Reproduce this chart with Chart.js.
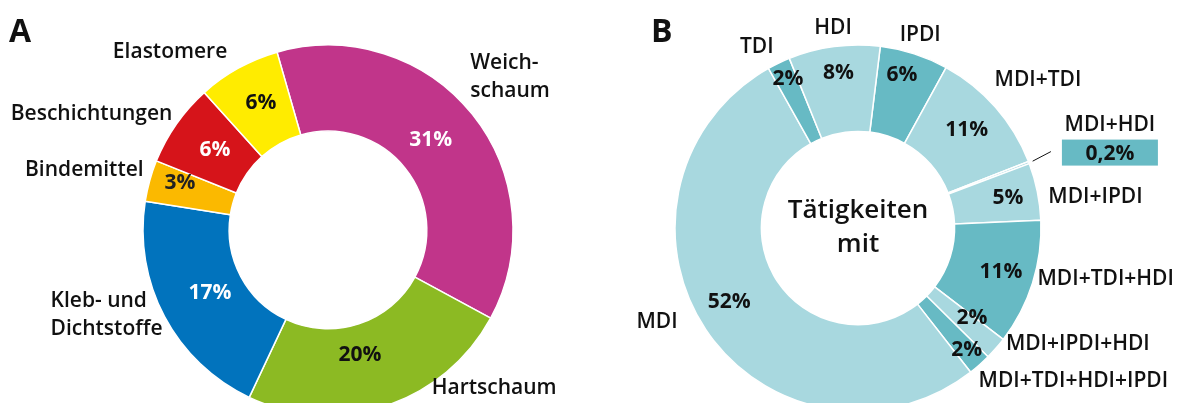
<!DOCTYPE html>
<html>
<head>
<meta charset="utf-8">
<script src="https://cdn.jsdelivr.net/npm/chart.js@4.4.1/dist/chart.umd.min.js"></script>
<style>
  html, body { margin: 0; padding: 0; background: #fff; }
  #wrap { position: relative; width: 1177px; height: 403px; overflow: hidden; }
  #wrap canvas { position: absolute; left: 0; top: 0; }
</style>
</head>
<body>
<div id="wrap">
  <canvas id="chartA" width="1177" height="403"></canvas>
  <canvas id="chartB" width="1177" height="403"></canvas>
</div>
<script>
// Panel A - Anwendungsbereiche
const categoriesA = ['Weichschaum', 'Hartschaum', 'Kleb- und Dichtstoffe', 'Bindemittel', 'Beschichtungen', 'Elastomere'];
const valuesA = [31, 20, 17, 3, 6, 6];
const linesA = [['Weich-', 'schaum'], ['Hartschaum'], ['Kleb- und', 'Dichtstoffe'], ['Bindemittel'], ['Beschichtungen'], ['Elastomere']];
const colorsA = ['#c1358a', '#8cba23', '#0173bd', '#fbb900', '#d6141a', '#ffec00'];
const pctColorsA = ['#fff', '#111', '#fff', '#222', '#fff', '#111'];

// Panel B - Tätigkeiten mit
const categoriesB = ['IPDI', 'MDI+TDI', 'MDI+HDI', 'MDI+IPDI', 'MDI+TDI+HDI', 'MDI+IPDI+HDI', 'MDI+TDI+HDI+IPDI', 'MDI', 'TDI', 'HDI'];
const valuesB = [6, 11, 0.2, 5, 11, 2, 2, 52, 2, 8];
const colorsB = ['#67bac4', '#a8d8df', '#a8d8df', '#a8d8df', '#67bac4', '#a8d8df', '#67bac4', '#a8d8df', '#67bac4', '#a8d8df'];

const LABEL_FONT = '600 21px "Open Sans"';
const PCT_FONT = 'bold 21px "Open Sans"';

function pct(v) {
    return String(v).replace('.', ',') + '%';
}

// draws outside names and inside percentages, placed from each arc's own geometry
const sliceLabels = {
    id: 'sliceLabels',
    afterDatasetsDraw(chart, args, opts) {
        const ctx = chart.ctx;
        const arcs = chart.getDatasetMeta(0).data;
        const values = chart.data.datasets[0].data;
        ctx.save();
        ctx.textBaseline = 'middle';
        arcs.forEach((arc, i) => {
            const mid = (arc.startAngle + arc.endAngle) / 2;
            const cx = arc.x, cy = arc.y;

            // name outside
            const o = opts.outer[i];
            const ax = cx + Math.cos(mid) * arc.outerRadius + o[0];
            const ay = cy + Math.sin(mid) * arc.outerRadius + o[1];
            const lines = opts.names[i];
            ctx.font = LABEL_FONT;
            ctx.fillStyle = '#111';
            if (o[3] === 'box') {
                // small slice: name above a filled box with the value
                const bw = 96, bh = 26;
                ctx.textAlign = 'center';
                ctx.fillText(lines[0], ax + bw / 2, ay - 28);
                ctx.fillStyle = opts.boxColor;
                ctx.fillRect(ax, ay - bh / 2, bw, bh);
                ctx.fillStyle = '#111';
                ctx.font = PCT_FONT;
                ctx.fillText(pct(values[i]), ax + bw / 2, ay + 1);
                ctx.strokeStyle = '#111';
                ctx.lineWidth = 1;
                ctx.beginPath();
                ctx.moveTo(cx + Math.cos(mid) * (arc.outerRadius + 4), cy + Math.sin(mid) * (arc.outerRadius + 4));
                ctx.lineTo(ax - 11, ay - 1);
                ctx.stroke();
            } else {
                ctx.textAlign = o[2];
                const lh = 28;
                const top = ay - (lines.length - 1) * lh / 2;
                lines.forEach((t, k) => ctx.fillText(t, ax, top + k * lh));

                // percentage inside
                const p = opts.inner[i];
                const px = cx + Math.cos(mid) * opts.pctRadius + p[0];
                const py = cy + Math.sin(mid) * opts.pctRadius + p[1];
                ctx.font = PCT_FONT;
                ctx.textAlign = 'center';
                ctx.fillStyle = opts.pctColors[i];
                ctx.fillText(pct(values[i]), px, py);
            }
        });

        if (opts.center) {
            ctx.font = '600 26px "Open Sans"';
            ctx.fillStyle = '#111';
            ctx.textAlign = 'center';
            ctx.fillText(opts.center[0], arcs[0].x, arcs[0].y - 17);
            ctx.fillText(opts.center[1], arcs[0].x, arcs[0].y + 17);
        }

        ctx.font = 'bold 32px "Open Sans"';
        ctx.fillStyle = '#111';
        ctx.textAlign = 'left';
        ctx.fillText(opts.panel, opts.panelX, 33);
        ctx.restore();
    }
};

function makeDoughnut(id, labels, values, colors, radius, padding, rotation, labelOpts) {
    return new Chart(document.getElementById(id), {
        type: 'doughnut',
        data: {
            labels: labels,
            datasets: [{
                data: values,
                backgroundColor: colors,
                borderColor: '#fff',
                borderWidth: 1.5,
                hoverOffset: 0,
                clip: false
            }]
        },
        options: {
            responsive: false,
            animation: false,
            events: [],
            devicePixelRatio: 1,
            rotation: rotation,
            radius: radius,
            cutout: 92,
            layout: { padding: padding },
            plugins: {
                legend: { display: false },
                tooltip: { enabled: false },
                sliceLabels: labelOpts
            }
        },
        plugins: [sliceLabels]
    });
}

makeDoughnut('chartA', categoriesA, valuesA, colorsA, 185,
    { left: 0, right: 521, top: 57, bottom: 0 }, -16, {
        names: linesA,
        pctColors: pctColorsA,
        pctRadius: 138,
        outer: [[-2, -37, 'left'], [46, -18, 'left'], [-114, -2, 'left'], [-6, -11, 'right'], [-4, -10, 'right'], [-11, -16, 'right']],
        inner: [[-5, -4], [-11, -6], [4, -2], [-15, -10], [0, -1], [0, -6]],
        panel: 'A',
        panelX: 9
    });

makeDoughnut('chartB', categoriesB, valuesB, colorsB, 183,
    { left: 539, right: 0, top: 53, bottom: 0 }, 7, {
        names: categoriesB.map(c => [c]),
        pctColors: categoriesB.map(() => '#111'),
        pctRadius: 150,
        boxColor: '#67bac4',
        outer: [[6, -19, 'center'], [-1, -27, 'left'], [33, -10, 'left', 'box'], [11, 6, 'left'], [5, -4, 'left'],
                [10, -4, 'left'], [-1, 16, 'left'], [-28, -7, 'right'], [-22, -16, 'center'], [-1, -19, 'center']],
        inner: [[-2, -10], [-4, 1], [0, 0], [3, 0], [0, -1], [1, -9], [9, 10], [-4, -9], [-5, -14], [0, -6]],
        center: ['Tätigkeiten', 'mit'],
        panel: 'B',
        panelX: 651
    });
</script>
</body>
</html>
